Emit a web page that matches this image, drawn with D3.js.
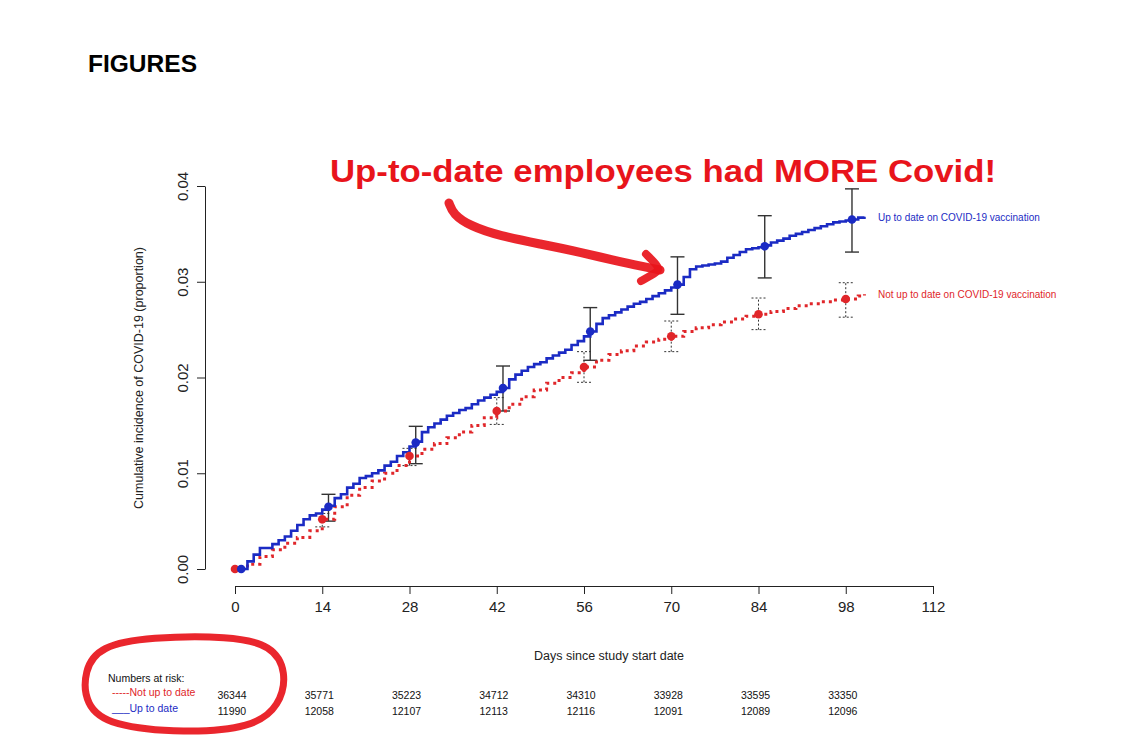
<!DOCTYPE html>
<html><head><meta charset="utf-8">
<script src="https://cdn.jsdelivr.net/npm/d3@7"></script>
<style>body{margin:0;background:#fff}svg{display:block}text{font-family:"Liberation Sans",Arial,sans-serif}</style>
</head><body>
<script>
// ---------- data ----------
const xTicks = [0,14,28,42,56,70,84,98,112];
const yTicks = [0,0.01,0.02,0.03,0.04];
const riskDays = [0,14,28,42,56,70,84,98];
const riskNotUpToDate = [36344,35771,35223,34712,34310,33928,33595,33350];
const riskUpToDate = [11990,12058,12107,12113,12116,12091,12089,12096];

const blueDays = [1,2,3,4,6,7,8,9,10,11,12,13,14,15,16,17,18,19,20,21,22,23,24,25,26,27,28,29,30,31,32,33,34,35,36,37,38,39,40,41,42,43,44,45,46,47,48,49,50,51,52,53,54,55,56,57,58,59,60,61,62,63,64,65,66,67,68,69,70,71,72,73,74,75,76,77,78,79,80,81,82,83,84,85,86,87,88,89,90,91,92,93,94,95,96,97,98,99,100,101];
const blueVals = [0,0.0008,0.0015,0.0022,0.0026,0.003,0.0034,0.004,0.0046,0.0052,0.0056,0.0058,0.0062,0.0066,0.0074,0.0078,0.0085,0.0089,0.0095,0.0097,0.01,0.0103,0.0108,0.0112,0.0118,0.0122,0.0128,0.0133,0.0143,0.0148,0.0152,0.0156,0.016,0.0163,0.0166,0.0168,0.0172,0.0176,0.0179,0.0182,0.0185,0.0189,0.0198,0.0203,0.0207,0.0211,0.0214,0.0216,0.022,0.0223,0.0226,0.0229,0.0234,0.0238,0.0243,0.0248,0.0256,0.0262,0.0265,0.0268,0.0271,0.0274,0.0277,0.0279,0.0282,0.0285,0.0288,0.0291,0.0294,0.0297,0.0305,0.0313,0.0316,0.0317,0.0318,0.0319,0.0321,0.0325,0.0328,0.0331,0.0334,0.0335,0.0336,0.0338,0.0341,0.0343,0.0345,0.0348,0.035,0.0352,0.0354,0.0356,0.0358,0.036,0.0362,0.0363,0.0364,0.0365,0.0367,0.0368];

const redDays = [0,2,4,6,8,10,12,14,16,18,20,22,24,26,28,30,32,34,36,38,40,42,44,46,48,50,52,54,56,58,60,62,64,66,68,70,72,74,76,78,80,82,84,86,88,90,92,94,96,98,100,101];
const redVals = [0,0.0005,0.0013,0.002,0.0027,0.0033,0.004,0.0052,0.0065,0.0077,0.0085,0.0092,0.01,0.0108,0.0118,0.0125,0.0131,0.0137,0.0143,0.015,0.0158,0.0165,0.0172,0.018,0.0187,0.0194,0.02,0.0205,0.0211,0.0218,0.0224,0.0228,0.0233,0.0237,0.024,0.0243,0.0248,0.0252,0.0255,0.0258,0.0261,0.0264,0.0266,0.0269,0.0272,0.0275,0.0277,0.0279,0.0281,0.0282,0.0285,0.0287];

const blueMarkDays = [1,15,29,43,57,71,85,99];
const blueMarkVals = [0,0.0065,0.0132,0.0189,0.0248,0.0297,0.0337,0.0365];
const blueLo = [null,0.0050,0.0110,0.0165,0.0218,0.0266,0.0304,0.0331];
const blueHi = [null,0.0078,0.0149,0.0212,0.0273,0.0326,0.0369,0.0397];

const redMarkDays = [0,14,28,42,56,70,84,98];
const redMarkVals = [0,0.0052,0.0118,0.0165,0.0211,0.0243,0.0266,0.0282];
const redLo = [null,0.0044,0.0108,0.0151,0.0195,0.0227,0.0250,0.0263];
const redHi = [null,0.0058,0.0126,0.0179,0.0227,0.0259,0.0283,0.0299];

const BLUE = "#1b2bc4", RED = "#e0262a", MARK = "#e8141b";

// ---------- svg ----------
const W = 1137, H = 739;
const svg = d3.select("body").append("svg").attr("width", W).attr("height", H);

const x = d3.scaleLinear().domain([0,112]).range([235,933]);
const y = d3.scaleLinear().domain([0,0.04]).range([569,186]);

// FIGURES
svg.append("text").attr("x",88).attr("y",72).attr("font-size",23).attr("font-weight","bold")
  .attr("textLength",109).attr("lengthAdjust","spacingAndGlyphs").text("FIGURES");

// y axis
const ya = svg.append("g").attr("transform","translate(205,0)")
  .call(d3.axisLeft(y).tickValues(yTicks).tickFormat(d3.format(".2f")).tickSize(8).tickSizeOuter(0));
ya.select(".domain").attr("stroke","#222");
ya.selectAll(".tick line").attr("stroke","#222");
ya.selectAll(".tick text").attr("font-size",15).attr("fill","#222").attr("font-family","Liberation Sans, Arial")
  .attr("transform", d => `rotate(-90) `).attr("x",null).attr("dy",null)
  .attr("text-anchor","middle")
  .each(function(d){ d3.select(this).attr("x", -y(d)).attr("y", -16).attr("transform","rotate(-90)"); });
// fix: ticks are in group coords, text rotated around tick origin
ya.selectAll(".tick text").attr("transform","rotate(-90)").attr("x",0).attr("y",-17);

// x axis
const xa = svg.append("g").attr("transform","translate(0,586)")
  .call(d3.axisBottom(x).tickValues(xTicks).tickSize(8).tickSizeOuter(0));
xa.select(".domain").attr("stroke","#222");
xa.selectAll(".tick line").attr("stroke","#222");
xa.selectAll(".tick text").attr("font-size",15).attr("fill","#222").attr("font-family","Liberation Sans, Arial").attr("y",15);

// axis titles
svg.append("text").attr("transform","translate(143,378) rotate(-90)").attr("text-anchor","middle")
  .attr("font-size",12.5).attr("fill","#222").text("Cumulative incidence of COVID-19 (proportion)");
svg.append("text").attr("x",609).attr("y",660).attr("text-anchor","middle")
  .attr("font-size",12.5).attr("fill","#222").text("Days since study start date");

// error bars
function errBars(days, lo, hi, dashed) {
  const g = svg.append("g").attr("stroke", dashed ? "#333" : "#333").attr("stroke-width", dashed?1:1.4)
    .attr("stroke-dasharray", dashed ? "2,2" : null).attr("fill","none");
  days.forEach((d,i) => {
    if (lo[i] == null) return;
    const cx = x(d);
    g.append("line").attr("x1",cx).attr("x2",cx).attr("y1",y(lo[i])).attr("y2",y(hi[i]));
    g.append("line").attr("x1",cx-7).attr("x2",cx+7).attr("y1",y(lo[i])).attr("y2",y(lo[i]));
    g.append("line").attr("x1",cx-7).attr("x2",cx+7).attr("y1",y(hi[i])).attr("y2",y(hi[i]));
  });
}
errBars(redMarkDays, redLo, redHi, true);
errBars(blueMarkDays, blueLo, blueHi, false);

// curves
const line = d3.line().x(d=>x(d[0])).y(d=>y(d[1])).curve(d3.curveStepAfter);
svg.append("path").datum(redDays.map((d,i)=>[d,redVals[i]]))
  .attr("d",line).attr("fill","none").attr("stroke",RED).attr("stroke-width",3)
  .attr("stroke-dasharray","3,4");
svg.append("path").datum(blueDays.map((d,i)=>[d,blueVals[i]]))
  .attr("d",line).attr("fill","none").attr("stroke",BLUE).attr("stroke-width",2.6);

// markers
svg.append("g").selectAll("circle").data(redMarkDays).join("circle")
  .attr("cx",d=>x(d)).attr("cy",(d,i)=>y(redMarkVals[i])).attr("r",4.3).attr("fill",RED);
svg.append("g").selectAll("circle").data(blueMarkDays).join("circle")
  .attr("cx",d=>x(d)).attr("cy",(d,i)=>y(blueMarkVals[i])).attr("r",4.3).attr("fill",BLUE);

// end labels
svg.append("text").attr("x",878).attr("y",221).attr("font-size",10).attr("fill",BLUE)
  .text("Up to date on COVID-19 vaccination");
svg.append("text").attr("x",878).attr("y",298).attr("font-size",10).attr("fill",RED)
  .text("Not up to date on COVID-19 vaccination");

// numbers at risk
svg.append("text").attr("x",108).attr("y",682).attr("font-size",10.5).attr("fill","#111").text("Numbers at risk:");
svg.append("text").attr("x",112).attr("y",696).attr("font-size",10.5).attr("fill",RED).text("-----Not up to date");
svg.append("text").attr("x",112).attr("y",712).attr("font-size",10.5).attr("fill",BLUE).text("___Up to date");
svg.append("g").selectAll("text").data(riskDays).join("text")
  .attr("x",d=>x(d)-3).attr("y",699).attr("text-anchor","middle").attr("font-size",10.5).attr("fill","#111")
  .text((d,i)=>riskNotUpToDate[i]);
svg.append("g").selectAll("text").data(riskDays).join("text")
  .attr("x",d=>x(d)-3).attr("y",715).attr("text-anchor","middle").attr("font-size",10.5).attr("fill","#111")
  .text((d,i)=>riskUpToDate[i]);

// annotation
svg.append("text").attr("x",330).attr("y",182).attr("font-size",31).attr("font-weight","bold")
  .attr("font-family","DejaVu Sans Condensed, DejaVu Sans").attr("fill",MARK)
  .attr("textLength",666).attr("lengthAdjust","spacingAndGlyphs")
  .text("Up-to-date employees had MORE Covid!");

const hand = d3.line().curve(d3.curveBasis);
svg.append("path").attr("d", hand([[449,203],[453,214],[470,226],[500,236],[540,244],[580,252],[620,262],[660,270]]))
  .attr("fill","none").attr("stroke",MARK).attr("stroke-width",9).attr("stroke-linecap","round").attr("opacity",0.92);
svg.append("path").attr("d", hand([[646,254],[654,262],[661,270],[650,276],[641,281]]))
  .attr("fill","none").attr("stroke",MARK).attr("stroke-width",8).attr("stroke-linecap","round").attr("opacity",0.92);

const loop = d3.line().curve(d3.curveBasisClosed);
svg.append("path").attr("d", loop([[150,637],[230,636],[272,645],[287,672],[280,706],[252,728],[185,733],[110,726],[85,705],[84,670],[100,646]]))
  .attr("fill","none").attr("stroke",MARK).attr("stroke-width",7).attr("opacity",0.92);
</script>
</body></html>
